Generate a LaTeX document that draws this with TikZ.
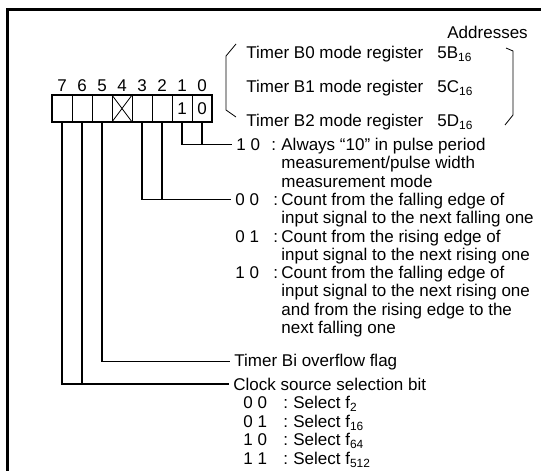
\documentclass[tikz,border=0pt]{standalone}
\usepackage{fontspec}
\setmainfont{Liberation Sans}
\usetikzlibrary{positioning}

\begin{document}
\begin{tikzpicture}[x=0.5pt,y=-0.5pt,
    bitcell/.style={draw, minimum width=10pt, minimum height=13.5pt, inner sep=0pt},
    txt/.style={anchor=base west, inner sep=0pt, align=left},
    lead/.style={line width=0.6pt}]
  \fontsize{8.5}{9.15}\selectfont
  \useasboundingbox (0,0) rectangle (541,471);
  % frame
  \draw[line width=1.5pt] (7,471) -- (7,9) -- (541,9);
  % register bits
  \foreach \b/\v [count=\i from 0] in {7/{},6/{},5/{},4/{},3/{},2/{},1/1,0/0} {
    \node[bitcell] (b\b) at (62+20*\i,108.5) {\v};
    \node[txt, anchor=base] (n\b) at (62+20*\i,91) {\b};
  }
  \draw[line width=1pt] (b7.north west) rectangle (b0.south east);
  \draw (b4.north west) -- (b4.south east) (b4.south west) -- (b4.north east);
  % register names and addresses
  \node[txt] (addr) at (447,38.5) {Addresses};
  \foreach \k/\a [count=\j from 0] in {0/B,1/C,2/D} {
    \node[txt] (reg\k) at (246,58.5+34*\j) {Timer B\k\ mode register};
    \node[txt] (adr\k) at (437,58.5+34*\j) {5\a\textsubscript{16}};
  }
  \draw (236,44) -- (226,56) -- (226,110) -- (236,117);
  \draw (506,48) -- (513,51) -- (513,115) -- (505,125);
  % bits 1,0 (multi-line nodes sit on their last line)
  \node[txt] (c10) at (236,150.5) {1 0};
  \node[txt] (k10) at (271,150.5) {:};
  \node[txt] (d10) at (281,187.1) {Always ``10'' in pulse period\\measurement/pulse width\\measurement mode};
  % bits 3,2
  \node[txt] (c00) at (235,205.4) {0 0};
  \node[txt] (k00) at (273,205.4) {:};
  \node[txt] (d00) at (281,223.7) {Count from the falling edge of\\input signal to the next falling one};
  \node[txt] (c01) at (235,242) {0 1};
  \node[txt] (k01) at (273,242) {:};
  \node[txt] (d01) at (281,260.3) {Count from the rising edge of\\input signal to the next rising one};
  \node[txt] (c1x) at (235,278.6) {1 0};
  \node[txt] (k1x) at (273,278.6) {:};
  \node[txt] (d1x) at (281,333.5) {Count from the falling edge of\\input signal to the next rising one\\and from the rising edge to the\\next falling one};
  % bit 5
  \node[txt] (ovf) at (234,366) {Timer Bi overflow flag};
  % bits 7,6
  \node[txt] (clk) at (233,390) {Clock source selection bit};
  \foreach \c/\f [count=\j from 0] in {0 0/2,0 1/16,1 0/64,1 1/512} {
    \node[txt] (s\f) at (243,408.5+18.7*\j) {\c};
    \node[txt] (sk\f) at (283,408.5+18.7*\j) {:};
    \node[txt] (sd\f) at (293,408.5+18.7*\j) {Select f\textsubscript{\f}};
  }
  % leads
  \draw[lead] (b1.south) |- ([xshift=-2pt]c10.west);
  \draw[lead] (b0.south) -- (b0.south |- c10.west);
  \draw[lead] (b3.south) |- ([xshift=-2pt]c00.west);
  \draw[lead] (b2.south) -- (b2.south |- c00.west);
  \draw[lead] (b5.south) |- ([xshift=-2pt]ovf.west);
  \draw[lead] (b7.south) |- ([xshift=-2pt]clk.west);
  \draw[lead] (b6.south) -- (b6.south |- clk.west);
\end{tikzpicture}
\end{document}
